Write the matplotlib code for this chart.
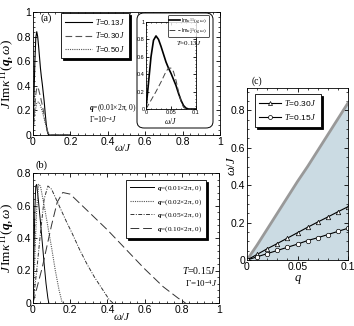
import matplotlib
matplotlib.use("Agg")
import matplotlib.pyplot as plt
from matplotlib.ticker import AutoMinorLocator
from matplotlib.patches import FancyBboxPatch

plt.rcParams['font.family'] = ['Liberation Sans', 'DejaVu Sans']
plt.rcParams['font.size'] = 7.5
plt.rcParams['mathtext.fontset'] = 'custom'
plt.rcParams['mathtext.rm'] = 'Liberation Serif'
plt.rcParams['mathtext.it'] = 'Liberation Serif:italic'
plt.rcParams['mathtext.bf'] = 'Liberation Serif:bold:italic'

SERIF = ['Liberation Serif', 'DejaVu Serif']

# ---- panel (a): J Im kappa^11 vs omega for three temperatures ----
w_a13 = [0, 0.005, 0.01, 0.015, 0.02, 0.025, 0.03, 0.035, 0.04, 0.045, 0.05,
         0.055, 0.06, 0.065, 0.07, 0.075, 0.08, 0.085, 0.1, 0.2]
k_a13 = [0, 0.30, 0.60, 0.79, 0.84, 0.80, 0.72, 0.63, 0.54, 0.47, 0.41,
         0.34, 0.27, 0.18, 0.10, 0.04, 0.01, 0, 0, 0]
w_a30 = [0, 0.005, 0.01, 0.015, 0.02, 0.025, 0.03, 0.04, 0.05, 0.06, 0.07, 0.08, 0.09, 0.2]
k_a30 = [0, 0.12, 0.24, 0.33, 0.38, 0.39, 0.37, 0.31, 0.24, 0.16, 0.08, 0.02, 0, 0]
w_a50 = [0, 0.005, 0.01, 0.02, 0.03, 0.04, 0.05, 0.06, 0.07, 0.08, 0.09, 0.2]
k_a50 = [0, 0.10, 0.18, 0.26, 0.27, 0.24, 0.19, 0.13, 0.07, 0.02, 0, 0]
labels_a = [r"$T$=0.13$\,J$", r"$T$=0.30$\,J$", r"$T$=0.50$\,J$"]

# inset: kappa^11 and kappa_2^11 at T=0.13J
w_in2 = [0, 0.01, 0.02, 0.03, 0.04, 0.045, 0.05, 0.055, 0.06, 0.065, 0.07, 0.075, 0.08, 0.1]
k_in2 = [0, 0.10, 0.20, 0.31, 0.43, 0.47, 0.47, 0.43, 0.33, 0.20, 0.09, 0.02, 0, 0]

# ---- panel (b): four wave vectors at T=0.15J ----
w_b01 = [0, 0.005, 0.01, 0.015, 0.02, 0.03, 0.04, 0.05, 0.06, 0.07, 0.08, 0.085]
k_b01 = [0, 0.30, 0.58, 0.72, 0.73, 0.62, 0.50, 0.37, 0.24, 0.12, 0.03, 0]
w_b02 = [0, 0.01, 0.02, 0.03, 0.04, 0.06, 0.08, 0.10, 0.12, 0.14, 0.155, 0.16]
k_b02 = [0, 0.30, 0.58, 0.73, 0.72, 0.60, 0.47, 0.34, 0.20, 0.08, 0.01, 0]
w_b05 = [0, 0.02, 0.04, 0.06, 0.08, 0.10, 0.14, 0.18, 0.21, 0.25, 0.29, 0.33, 0.37, 0.41, 0.43]
k_b05 = [0, 0.20, 0.43, 0.64, 0.72, 0.70, 0.60, 0.50, 0.43, 0.33, 0.24, 0.16, 0.09, 0.02, 0]
w_b10 = [0, 0.05, 0.10, 0.13, 0.16, 0.20, 0.30, 0.40, 0.50, 0.60, 0.70, 0.78, 0.82]
k_b10 = [0, 0.22, 0.48, 0.62, 0.68, 0.67, 0.56, 0.45, 0.33, 0.21, 0.10, 0.03, 0]
labels_b = [r"$\mathbf{q}$=(0.01×2π, 0)", r"$\mathbf{q}$=(0.02×2π, 0)",
            r"$\mathbf{q}$=(0.05×2π, 0)", r"$\mathbf{q}$=(0.10×2π, 0)"]

# ---- panel (c): peak position vs q ----
q_c = [0, 0.01, 0.02, 0.03, 0.04, 0.05, 0.06, 0.07, 0.08, 0.09, 0.1]
edge_c = [0, 0.08, 0.165, 0.25, 0.335, 0.42, 0.50, 0.585, 0.67, 0.755, 0.84]
peak_30 = [0, 0.03, 0.06, 0.088, 0.117, 0.146, 0.175, 0.203, 0.23, 0.258, 0.285]
peak_15 = [0, 0.017, 0.034, 0.051, 0.068, 0.085, 0.104, 0.119, 0.136, 0.153, 0.17]


def style_axes(ax, nx=5, ny=5):
    ax.tick_params(which='both', direction='in', top=True, right=True, pad=1.5)
    ax.tick_params(which='major', length=3, width=0.6)
    ax.tick_params(which='minor', length=1.5, width=0.5)
    ax.xaxis.set_minor_locator(AutoMinorLocator(nx))
    ax.yaxis.set_minor_locator(AutoMinorLocator(ny))
    for s in ax.spines.values():
        s.set_linewidth(0.6)


def fmt(v):
    return "0" if v == 0 else ("1" if v == 1 else f"{v:g}")


W, H = 354, 326
fig = plt.figure(figsize=(W / 100, H / 100), dpi=100)


def box(x0, y0, x1, y1):
    return [x0 / W, 1 - y1 / H, (x1 - x0) / W, (y1 - y0) / H]


shadow = {'color': 'black', 'alpha': 1.0, 'ox': 1.5, 'oy': -1.5}

# panel (a)
ax_a = fig.add_axes(box(33, 12, 220, 135))
ax_a.plot(w_a13, k_a13, color='black', lw=0.8, label=labels_a[0])
ax_a.plot(w_a30, k_a30, color='#555555', lw=0.8, ls=(0, (6, 3)), label=labels_a[1])
ax_a.plot(w_a50, k_a50, color='#555555', lw=0.8, ls=(0, (1, 1)), label=labels_a[2])
ax_a.set_xlim(0, 1)
ax_a.set_ylim(0, 1)
ticks = [0, 0.2, 0.4, 0.6, 0.8, 1]
ax_a.set_xticks(ticks, [fmt(t) for t in ticks])
ax_a.set_yticks(ticks, [fmt(t) for t in ticks])
style_axes(ax_a)
ax_a.set_ylabel(r"$J\,\mathrm{Im}\kappa^{11}(\mathbf{q},\omega)$", fontsize=9.5, labelpad=0)
ax_a.set_xlabel(r"$\omega/J$", fontsize=8)
ax_a.xaxis.set_label_coords(0.48, -0.06)
leg = ax_a.legend(loc='upper left', bbox_to_anchor=(0.15, 0.99), fontsize=5.5,
                  frameon=True, fancybox=False, shadow=shadow, handlelength=3.6,
                  borderpad=0.5, labelspacing=0.45, handletextpad=0.4,
                  borderaxespad=0)
leg.get_frame().set_edgecolor('black')
leg.get_frame().set_linewidth(0.6)
ax_a.text(0.04, 0.93, "(a)", transform=ax_a.transAxes, family=SERIF, fontsize=7.5)
ax_a.text(0.3, 0.2, r"$\mathbf{q}$=(0.01×2π, 0)", transform=ax_a.transAxes,
          family=SERIF, fontsize=5.5)
ax_a.text(0.3, 0.1, r"Γ=10$^{-4}J$", transform=ax_a.transAxes,
          family=SERIF, fontsize=5.5)

# rounded frame around the inset
fig.patches.append(FancyBboxPatch((137 / W, 1 - 128 / H), 76 / W, 115 / H,
                                  boxstyle="round,pad=0,rounding_size=0.02",
                                  transform=fig.transFigure, fc='white',
                                  ec='black', lw=0.7, zorder=2))

ax_in = fig.add_axes(box(146, 22, 196, 109), zorder=3)
ax_in.plot(w_a13, k_a13, color='black', lw=1.2, label=r"Im$\kappa^{11}(q,\omega)$")
ax_in.plot(w_in2, k_in2, color='#444444', lw=0.7, ls=(0, (6, 3)),
           label=r"Im$\kappa_2^{11}(q,\omega)$")
ax_in.set_xlim(0, 0.1)
ax_in.set_ylim(0, 1)
ax_in.set_xticks([0, 0.05, 0.1], ["0", "0.05", "0.1"])
ax_in.set_yticks([0, 0.2, 0.4, 0.6, 0.8, 1], ["0", "0.2", "0.4", "0.6", "0.8", "1"])
style_axes(ax_in)
ax_in.tick_params(labelsize=4, pad=1)
ax_in.tick_params(which='major', length=2)
ax_in.tick_params(which='minor', length=1)
ax_in.set_xlabel(r"$\omega/J$", fontsize=5.5, labelpad=0.5)
ax_in.text(0.6, 0.73, r"$T$=0.13$J$", transform=ax_in.transAxes, fontsize=5,
           family=SERIF)
leg_in = ax_in.legend(loc='upper left', bbox_to_anchor=(168 / W, 1 - 15 / H),
                      bbox_transform=fig.transFigure, fontsize=3.8, frameon=True,
                      fancybox=True, handlelength=2.0, borderpad=0.25,
                      labelspacing=0.15, handletextpad=0.3, borderaxespad=0)
leg_in.get_frame().set_edgecolor('black')
leg_in.get_frame().set_linewidth(0.6)

# panel (b)
ax_b = fig.add_axes(box(33, 173, 219, 303))
ax_b.plot(w_b01, k_b01, color='black', lw=0.7, label=labels_b[0])
ax_b.plot(w_b02, k_b02, color='#555555', lw=0.8, ls=(0, (1, 1)), label=labels_b[1])
ax_b.plot(w_b05, k_b05, color='#333333', lw=0.7, ls=(0, (4, 1.5, 1, 1.5)), label=labels_b[2])
ax_b.plot(w_b10, k_b10, color='#333333', lw=0.7, ls=(0, (9, 4)), label=labels_b[3])
ax_b.set_xlim(0, 1)
ax_b.set_ylim(0, 0.8)
ax_b.set_xticks(ticks, [fmt(t) for t in ticks])
yb = [0, 0.2, 0.4, 0.6, 0.8]
ax_b.set_yticks(yb, [fmt(t) for t in yb])
style_axes(ax_b)
ax_b.set_ylabel(r"$J\,\mathrm{Im}\kappa^{11}(\mathbf{q},\omega)$", fontsize=9.5, labelpad=0)
ax_b.set_xlabel(r"$\omega/J$", fontsize=8)
ax_b.xaxis.set_label_coords(0.48, -0.06)
leg_b = ax_b.legend(loc='upper left', bbox_to_anchor=(0.5, 0.95),
                    frameon=True, fancybox=False, shadow=shadow, handlelength=3.4,
                    borderpad=0.5, labelspacing=0.55, handletextpad=0.4,
                    borderaxespad=0, prop={'family': SERIF, 'size': 5.2})
leg_b.get_frame().set_edgecolor('black')
leg_b.get_frame().set_linewidth(0.6)
fig.text(35 / W, 1 - 165 / H, "(b)", family=SERIF, fontsize=7.5, va='center')
ax_b.text(0.99, 0.22, r"$T$=0.15$J$", transform=ax_b.transAxes, ha='right',
          family=SERIF, fontsize=7)
ax_b.text(0.99, 0.12, r"Γ=10$^{-4}J$", transform=ax_b.transAxes, ha='right',
          family=SERIF, fontsize=6.5)

# panel (c)
ax_c = fig.add_axes(box(247, 88, 348, 260))
ax_c.fill_between(q_c, 0, edge_c, color='#cbdbe3', lw=0)
ax_c.plot(q_c, edge_c, color='#999999', lw=2)
ax_c.plot(q_c, peak_30, color='black', lw=0.8, marker='^', ms=3.2, mfc='white',
          mec='black', mew=0.5, label=r"$T$=0.30$\,J$")
ax_c.plot(q_c, peak_15, color='black', lw=0.8, marker='o', ms=3.2, mfc='white',
          mec='black', mew=0.5, label=r"$T$=0.15$\,J$")
ax_c.set_xlim(0, 0.1)
ax_c.set_ylim(0, 0.92)
ax_c.set_xticks([0, 0.05, 0.1], ["0", "0.05", "0.1"])
ax_c.set_yticks(yb, [fmt(t) for t in yb])
style_axes(ax_c, nx=5, ny=4)
ax_c.set_xlabel(r"$q$", fontsize=9, labelpad=1)
ax_c.set_ylabel(r"$\omega/J$", fontsize=9)
ax_c.yaxis.set_label_coords(-0.09, 0.55)
leg_c = ax_c.legend(loc='upper left', bbox_to_anchor=(0.08, 0.965), fontsize=6,
                    frameon=True, fancybox=False, shadow=shadow, handlelength=2.6,
                    borderpad=0.5, labelspacing=0.5, handletextpad=0.4,
                    markerscale=0.9, numpoints=1, borderaxespad=0)
leg_c.get_frame().set_edgecolor('black')
leg_c.get_frame().set_linewidth(0.6)
fig.text(252 / W, 1 - 81 / H, "(c)", family=SERIF, fontsize=7, va='center')

fig.savefig("out.png", dpi=100)
